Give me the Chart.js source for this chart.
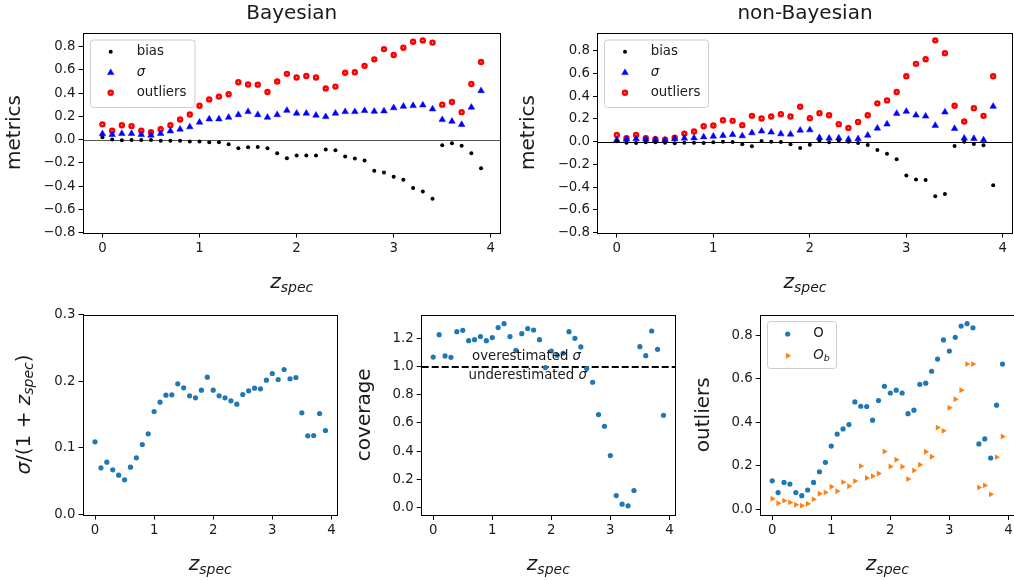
<!DOCTYPE html>
<html>
<head>
<meta charset="utf-8">
<script src="https://cdn.jsdelivr.net/npm/chart.js@4.4.1/dist/chart.umd.min.js"></script>
<style>
  html, body { margin: 0; padding: 0; background: #fff; overflow: hidden; }
  body { width: 1014px; height: 580px; position: relative; }
  canvas { position: absolute; left: 0; top: 0; }
</style>
</head>
<body>
<canvas id="bayes" width="1030" height="580"></canvas>
<canvas id="nonbayes" width="1030" height="580"></canvas>
<canvas id="sigma" width="1030" height="580"></canvas>
<canvas id="coverage" width="1030" height="580"></canvas>
<canvas id="outliers" width="1030" height="580"></canvas>
<script>
const zSpec = [0.0, 0.1, 0.2, 0.3, 0.4, 0.5, 0.6, 0.7, 0.8, 0.9,
  1.0, 1.1, 1.2, 1.3, 1.4, 1.5, 1.6, 1.7, 1.8, 1.9,
  2.0, 2.1, 2.2, 2.3, 2.4, 2.5, 2.6, 2.7, 2.8, 2.9,
  3.0, 3.1, 3.2, 3.3, 3.4, 3.5, 3.6, 3.7, 3.8, 3.9];

const bayesBias = [0.02, 0.0, -0.006, -0.003, -0.003, -0.003, -0.009, -0.009, -0.009, -0.017,
  -0.017, -0.023, -0.023, -0.04, -0.074, -0.066, -0.063, -0.074, -0.117, -0.16,
  -0.137, -0.137, -0.137, -0.086, -0.091, -0.146, -0.163, -0.18, -0.269, -0.283,
  -0.32, -0.346, -0.417, -0.446, -0.509, -0.049, -0.031, -0.054, -0.117, -0.246];
const bayesSigma = [0.049, 0.043, 0.051, 0.051, 0.043, 0.037, 0.051, 0.074, 0.089, 0.109,
  0.149, 0.177, 0.177, 0.191, 0.214, 0.24, 0.214, 0.191, 0.214, 0.251,
  0.226, 0.226, 0.209, 0.197, 0.226, 0.24, 0.24, 0.249, 0.243, 0.246,
  0.273, 0.286, 0.292, 0.297, 0.263, 0.171, 0.157, 0.129, 0.277, 0.42];
const bayesOutliers = [0.131, 0.077, 0.124, 0.116, 0.077, 0.063, 0.089, 0.124, 0.173, 0.216,
  0.291, 0.346, 0.37, 0.39, 0.494, 0.474, 0.473, 0.41, 0.5, 0.566,
  0.535, 0.548, 0.535, 0.44, 0.456, 0.575, 0.58, 0.635, 0.691, 0.779,
  0.728, 0.791, 0.843, 0.854, 0.835, 0.301, 0.324, 0.236, 0.479, 0.668];

const nonBayesBias = [0.003, -0.009, -0.012, -0.006, -0.006, -0.009, -0.015, -0.009, -0.009, -0.012,
  -0.006, 0.0, -0.003, -0.024, -0.041, 0.006, 0.0, -0.003, -0.024, -0.056,
  -0.027, 0.009, -0.006, 0.009, 0.0, -0.012, -0.03, -0.074, -0.106, -0.154,
  -0.298, -0.334, -0.337, -0.481, -0.461, -0.038, 0.0, -0.021, -0.032, -0.384];
const nonBayesSigma = [0.015, 0.021, 0.024, 0.021, 0.018, 0.012, 0.024, 0.03, 0.032, 0.041,
  0.047, 0.053, 0.062, 0.05, 0.077, 0.092, 0.083, 0.068, 0.065, 0.1,
  0.103, 0.035, 0.03, 0.032, 0.021, 0.024, 0.056, 0.118, 0.154, 0.248,
  0.266, 0.233, 0.224, 0.142, 0.26, 0.115, 0.03, 0.027, 0.015, 0.31];
const nonBayesOutliers = [0.059, 0.03, 0.059, 0.03, 0.021, 0.018, 0.035, 0.071, 0.089, 0.136,
  0.142, 0.189, 0.183, 0.145, 0.227, 0.204, 0.221, 0.242, 0.221, 0.307,
  0.207, 0.251, 0.233, 0.154, 0.121, 0.174, 0.233, 0.337, 0.363, 0.437,
  0.576, 0.685, 0.726, 0.892, 0.779, 0.316, 0.177, 0.295, 0.227, 0.576];

const sigmaNorm = [0.109, 0.07, 0.0785, 0.067, 0.059, 0.052, 0.071, 0.085, 0.105, 0.121,
  0.1545, 0.1685, 0.179, 0.1795, 0.196, 0.19, 0.178, 0.175, 0.1865, 0.206,
  0.1865, 0.178, 0.175, 0.1705, 0.1655, 0.18, 0.1855, 0.1895, 0.1885, 0.2015,
  0.2115, 0.2025, 0.2175, 0.2035, 0.2055, 0.1525, 0.118, 0.1185, 0.1515, 0.126];
const coverage = [1.068, 1.227, 1.076, 1.066, 1.248, 1.258, 1.184, 1.191, 1.213, 1.184,
  1.206, 1.277, 1.305, 1.213, 1.116, 1.234, 1.27, 1.26, 1.191, 0.993,
  1.111, 1.08, 1.095, 1.248, 1.201, 1.14, 0.986, 0.889, 0.66, 0.577,
  0.369, 0.085, 0.024, 0.012, 0.121, 1.142, 1.078, 1.253, 1.123, 0.655];
const outliersB = [0.049, 0.028, 0.04, 0.032, 0.021, 0.017, 0.026, 0.046, 0.072, 0.078,
  0.104, 0.083, 0.125, 0.106, 0.13, 0.199, 0.144, 0.153, 0.165, 0.266,
  0.197, 0.228, 0.196, 0.139, 0.179, 0.205, 0.265, 0.242, 0.376, 0.361,
  0.467, 0.506, 0.548, 0.668, 0.668, 0.101, 0.11, 0.069, 0.24, 0.335];

const zTicks = [0, 1, 2, 3, 4];
const metricTicks = [-0.8, -0.6, -0.4, -0.2, 0.0, 0.2, 0.4, 0.6, 0.8];
const sigmaTicks = [0.0, 0.1, 0.2, 0.3];
const coverageTicks = [0.0, 0.2, 0.4, 0.6, 0.8, 1.0, 1.2];
const outlierTicks = [0.0, 0.2, 0.4, 0.6, 0.8];

const PAGE_W = 1030;
const PAGE_H = 580;
const FAMILY = '"DejaVu Sans", sans-serif';
const TICK_SIZE = 13.3;
const LABEL_SIZE = 20;

function font(size, italic) {
  return (italic ? 'italic ' : '') + size + 'px ' + FAMILY;
}

// Draw a run of text pieces (mathtext-like: italics, subscripts) on one line.
function drawRuns(ctx, runs, x, y, align) {
  let width = 0;
  runs.forEach((r) => {
    ctx.font = font(r.size, r.italic);
    width += ctx.measureText(r.text).width;
  });
  let cx = align === 'center' ? x - width / 2 : x;
  ctx.textAlign = 'left';
  runs.forEach((r) => {
    ctx.font = font(r.size, r.italic);
    ctx.fillText(r.text, cx, y + (r.dy || 0));
    cx += ctx.measureText(r.text).width;
  });
}

const zLabel = [
  { text: 'z', size: LABEL_SIZE, italic: true },
  { text: 'spec', size: 14, italic: true, dy: 4 }
];

function drawMarker(ctx, m, x, y) {
  ctx.save();
  ctx.fillStyle = m.fill;
  ctx.strokeStyle = m.stroke || m.fill;
  ctx.lineWidth = m.borderWidth || 0;
  ctx.beginPath();
  if (m.style === 'triangle') {
    let rad = (m.rotation || 0) * Math.PI / 180;
    for (let i = 0; i < 3; i++) {
      const px = x + Math.sin(rad) * m.radius;
      const py = y - Math.cos(rad) * m.radius;
      if (i === 0) ctx.moveTo(px, py); else ctx.lineTo(px, py);
      rad += 2 * Math.PI / 3;
    }
    ctx.closePath();
  } else {
    ctx.arc(x, y, m.radius, 0, Math.PI * 2);
  }
  ctx.fill();
  if (m.borderWidth) ctx.stroke();
  ctx.restore();
}

function drawLegend(ctx, lg) {
  ctx.save();
  const r = 3;
  const { left, top, right, bottom } = lg.box;
  ctx.beginPath();
  ctx.moveTo(left + r, top);
  ctx.arcTo(right, top, right, bottom, r);
  ctx.arcTo(right, bottom, left, bottom, r);
  ctx.arcTo(left, bottom, left, top, r);
  ctx.arcTo(left, top, right, top, r);
  ctx.closePath();
  ctx.fillStyle = 'rgba(255,255,255,0.8)';
  ctx.fill();
  ctx.strokeStyle = '#cccccc';
  ctx.lineWidth = 1;
  ctx.stroke();
  lg.items.forEach((item, i) => {
    const y = lg.rowY[i];
    drawMarker(ctx, item.marker, lg.markerX, y);
    ctx.fillStyle = '#1a1a1a';
    ctx.textBaseline = 'middle';
    drawRuns(ctx, item.label, lg.textX, y, 'left');
  });
  ctx.restore();
}

function decor(cfg) {
  return {
    id: 'decor',
    beforeDatasetsDraw(chart) {
      const { ctx, chartArea: a, scales: { y } } = chart;
      (cfg.hLines || []).forEach((h) => {
        const py = Math.round(y.getPixelForValue(h.value)) + (h.width % 2 ? 0.5 : 0);
        ctx.save();
        ctx.strokeStyle = h.color;
        ctx.lineWidth = h.width;
        ctx.setLineDash(h.dash || []);
        ctx.beginPath();
        ctx.moveTo(a.left, py);
        ctx.lineTo(a.right, py);
        ctx.stroke();
        ctx.restore();
      });
    },
    afterDraw(chart) {
      const { ctx, chartArea: a, scales: { x, y } } = chart;
      ctx.save();
      // frame on all four sides, like matplotlib spines
      ctx.strokeStyle = '#000';
      ctx.lineWidth = 1;
      ctx.strokeRect(Math.round(a.left) - 0.5, Math.round(a.top) + 0.5,
        Math.round(a.right) - Math.round(a.left) + 1, Math.round(a.bottom) - Math.round(a.top));

      ctx.fillStyle = '#1a1a1a';
      const cx = (a.left + a.right) / 2;
      const cy = (a.top + a.bottom) / 2;
      if (cfg.title) {
        ctx.textBaseline = 'alphabetic';
        drawRuns(ctx, [{ text: cfg.title, size: LABEL_SIZE }], cx, 18.5, 'center');
      }
      ctx.textBaseline = 'alphabetic';
      drawRuns(ctx, zLabel, cx, cfg.xLabelY, 'center');

      ctx.save();
      ctx.translate(cfg.yLabelX, cy);
      ctx.rotate(-Math.PI / 2);
      ctx.textBaseline = 'middle';
      drawRuns(ctx, cfg.yLabel, 0, 0, 'center');
      ctx.restore();

      (cfg.notes || []).forEach((n) => {
        ctx.textBaseline = 'middle';
        drawRuns(ctx, n.runs, x.getPixelForValue(n.x), y.getPixelForValue(n.y) + n.dy, 'center');
      });

      if (cfg.legend) drawLegend(ctx, cfg.legend);
      ctx.restore();
    }
  };
}

function axis(min, max, ticks, fmt, position, size) {
  return {
    type: 'linear',
    position,
    min,
    max,
    afterBuildTicks: (scale) => {
      scale.ticks = ticks.map((v) => ({ value: v }));
    },
    afterFit: (scale) => {
      if (position === 'bottom') scale.height = size;
      else scale.width = size;
    },
    grid: {
      display: true,
      drawOnChartArea: false,
      drawTicks: true,
      tickLength: 5,
      tickWidth: 1,
      color: '#000',
      tickColor: '#000'
    },
    border: { display: false },
    ticks: {
      autoSkip: false,
      maxRotation: 0,
      padding: 3,
      color: '#1a1a1a',
      font: { family: 'DejaVu Sans', size: TICK_SIZE },
      callback: (value) => fmt(value)
    }
  };
}

const fmtInt = (v) => String(Math.round(v));
const fmt1 = (v) => (v < -1e-9 ? '\u2212' : '') + Math.abs(v).toFixed(1);

function series(label, values, point) {
  return Object.assign({
    label,
    data: zSpec.map((z, i) => ({ x: z, y: values[i] })),
    showLine: false
  }, point);
}

const biasPoint = { pointStyle: 'circle', pointRadius: 2, backgroundColor: '#000', borderWidth: 0 };
const sigmaPoint = { pointStyle: 'triangle', pointRadius: 3.8, backgroundColor: '#0000ff', borderColor: '#0000ff', borderWidth: 0.5 };
const outlierPoint = { pointStyle: 'circle', pointRadius: 1.9, backgroundColor: '#ffffff', borderColor: '#ff0000', borderWidth: 2.6 };
const bluePoint = { pointStyle: 'circle', pointRadius: 2.6, backgroundColor: '#1f77b4', borderWidth: 0 };
const orangePoint = { pointStyle: 'triangle', rotation: 90, pointRadius: 3.4, backgroundColor: '#ff7f0e', borderWidth: 0 };

function legendItem(runs, p) {
  return {
    label: runs,
    marker: {
      style: p.pointStyle,
      radius: p.pointRadius,
      rotation: p.rotation || 0,
      fill: p.backgroundColor,
      stroke: p.borderColor,
      borderWidth: p.borderWidth
    }
  };
}

const metricLegendItems = [
  legendItem([{ text: 'bias', size: TICK_SIZE }], biasPoint),
  legendItem([{ text: '\u03c3', size: TICK_SIZE, italic: true }], sigmaPoint),
  legendItem([{ text: 'outliers', size: TICK_SIZE }], outlierPoint)
];

function panel(id, cfg) {
  const b = cfg.box;
  return new Chart(document.getElementById(id), {
    type: 'scatter',
    data: { datasets: cfg.datasets },
    options: {
      responsive: false,
      animation: false,
      events: [],
      layout: { padding: { left: 0, top: b.top, right: PAGE_W - b.right, bottom: 0 } },
      plugins: {
        legend: { display: false },
        tooltip: { enabled: false },
        title: { display: false }
      },
      scales: {
        x: axis(-0.195, 4.095, zTicks, fmtInt, 'bottom', PAGE_H - b.bottom),
        y: axis(cfg.yMin, cfg.yMax, cfg.yTicks, fmt1, 'left', b.left)
      }
    },
    plugins: [decor(cfg)]
  });
}

panel('bayes', {
  box: { left: 83.5, top: 32.5, right: 500, bottom: 232.5 },
  yMin: -0.8, yMax: 0.922, yTicks: metricTicks,
  title: 'Bayesian',
  xLabelY: 287.5,
  yLabelX: 15,
  yLabel: [{ text: 'metrics', size: LABEL_SIZE }],
  hLines: [{ value: 0, color: '#555', width: 1 }],
  datasets: [
    series('bias', bayesBias, biasPoint),
    series('sigma', bayesSigma, sigmaPoint),
    series('outliers', bayesOutliers, outlierPoint)
  ],
  legend: {
    box: { left: 90.5, top: 40, right: 195, bottom: 107.5 },
    markerX: 110.7, textX: 136.7, rowY: [51.7, 72.7, 92.7],
    items: metricLegendItems
  }
});

panel('nonbayes', {
  box: { left: 598, top: 32.5, right: 1012, bottom: 232.5 },
  yMin: -0.8, yMax: 0.961, yTicks: metricTicks,
  title: 'non-Bayesian',
  xLabelY: 287.5,
  yLabelX: 529,
  yLabel: [{ text: 'metrics', size: LABEL_SIZE }],
  hLines: [{ value: 0, color: '#000', width: 1 }],
  datasets: [
    series('bias', nonBayesBias, biasPoint),
    series('sigma', nonBayesSigma, sigmaPoint),
    series('outliers', nonBayesOutliers, outlierPoint)
  ],
  legend: {
    box: { left: 604.5, top: 40, right: 708.5, bottom: 107.5 },
    markerX: 625, textX: 650.7, rowY: [51.7, 72.7, 92.7],
    items: metricLegendItems
  }
});

panel('sigma', {
  box: { left: 83.5, top: 314.5, right: 337, bottom: 514.5 },
  yMin: 0, yMax: 0.3, yTicks: sigmaTicks,
  xLabelY: 570,
  yLabelX: 25,
  yLabel: [
    { text: '\u03c3', size: LABEL_SIZE, italic: true },
    { text: '/(1 + ', size: LABEL_SIZE },
    { text: 'z', size: LABEL_SIZE, italic: true },
    { text: 'spec', size: 14, italic: true, dy: 4 },
    { text: ')', size: LABEL_SIZE }
  ],
  datasets: [series('sigma/(1+z)', sigmaNorm, bluePoint)]
});

panel('coverage', {
  box: { left: 421.7, top: 314.5, right: 675, bottom: 515 },
  yMin: -0.053, yMax: 1.37, yTicks: coverageTicks,
  xLabelY: 570,
  yLabelX: 365,
  yLabel: [{ text: 'coverage', size: LABEL_SIZE }],
  hLines: [{ value: 1.0, color: '#000', width: 2, dash: [7, 3] }],
  notes: [
    { x: 1.58, y: 1.0, dy: -10, runs: [{ text: 'overestimated ', size: TICK_SIZE }, { text: '\u03c3', size: TICK_SIZE, italic: true }] },
    { x: 1.6, y: 1.0, dy: 8.5, runs: [{ text: 'underestimated ', size: TICK_SIZE }, { text: '\u03c3', size: TICK_SIZE, italic: true }] }
  ],
  datasets: [series('coverage', coverage, bluePoint)]
});

panel('outliers', {
  box: { left: 760.7, top: 314.5, right: 1014, bottom: 515 },
  yMin: -0.026, yMax: 0.896, yTicks: outlierTicks,
  xLabelY: 570,
  yLabelX: 704,
  yLabel: [{ text: 'outliers', size: LABEL_SIZE }],
  datasets: [
    series('O', bayesOutliers, bluePoint),
    series('O_b', outliersB, orangePoint)
  ],
  legend: {
    box: { left: 767.5, top: 321.5, right: 836.5, bottom: 368.5 },
    markerX: 787.7, textX: 813.3, rowY: [334, 355.7],
    items: [
      legendItem([{ text: 'O', size: TICK_SIZE }], bluePoint),
      legendItem([{ text: 'O', size: TICK_SIZE, italic: true }, { text: 'b', size: 9.5, italic: true, dy: 3 }], orangePoint)
    ]
  }
});
</script>
</body>
</html>
